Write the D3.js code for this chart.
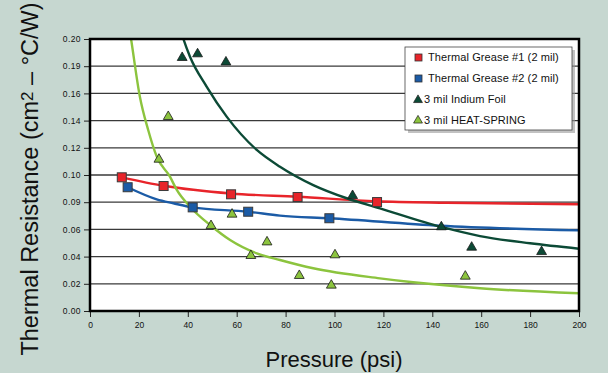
<!DOCTYPE html>
<html>
<head>
<meta charset="utf-8">
<script src="https://cdn.jsdelivr.net/npm/d3@7"></script>
<style>
html,body{margin:0;padding:0;background:#c6d7d0;}
svg{display:block;font-family:"Liberation Sans",Arial,sans-serif;}
</style>
</head>
<body>
<svg id="chart" width="608" height="373"></svg>
<script>
// ---- data ----
const yTickValues = [0, 0.02, 0.04, 0.06, 0.08, 0.10, 0.12, 0.14, 0.16, 0.18, 0.20];
const yTickLabels = ["0.00","0.02","0.04","0.06","0.09","0.10","0.12","0.14","0.16","0.19","0.20"];
const xTickValues = [0,20,40,60,80,100,120,140,160,180,200];

const grease1Points = [[13.0,0.0983],[30.1,0.0919],[57.7,0.0858],[84.9,0.0838],[117.4,0.0801]];
const grease2Points = [[15.4,0.0910],[42.0,0.0762],[64.7,0.0730],[97.9,0.0682]];
const indiumPoints  = [[37.7,0.1863],[44.0,0.1890],[55.6,0.1830],[107.4,0.0848],[143.7,0.0618],[156.1,0.0468],[184.7,0.0436]];
const springPoints  = [[28.2,0.1115],[32.0,0.1429],[49.5,0.0627],[58.1,0.0711],[65.8,0.0407],[72.4,0.0507],[85.6,0.0260],[98.7,0.0189],[100.2,0.0412],[153.5,0.0255]];

const grease1Trend = [[13.0,0.0983],[30.1,0.0921],[57.7,0.0864],[84.9,0.0840],[117.4,0.0807],[145.9,0.0796],[200,0.0785]];
const grease2Trend = [[15.4,0.0910],[27.3,0.0821],[34.1,0.0792],[42.0,0.0762],[64.7,0.0730],[77.7,0.0701],[97.9,0.0682],[143.1,0.0627],[200,0.0593]];
const indiumTrend  = [[37.0,0.207],[38.2,0.200],[40.9,0.187],[47.7,0.165],[55.9,0.1429],[68.2,0.1184],[77.7,0.1061],[91.3,0.0926],[105.0,0.0829],[118.6,0.0755],[143.7,0.0618],[159.5,0.0551],[180.0,0.0498],[200,0.0458]];
const springTrend  = [[16.2,0.207],[16.8,0.200],[20.4,0.1576],[23.8,0.1331],[27.3,0.1135],[32.7,0.0988],[35.5,0.0890],[40.9,0.0767],[49.5,0.0627],[57.3,0.0522],[68.2,0.0424],[77.7,0.0375],[91.3,0.0314],[118.6,0.0240],[132.2,0.0211],[159.5,0.0167],[200,0.0130]];

const seriesNames = ["Thermal Grease #1 (2 mil)","Thermal Grease #2 (2 mil)","3 mil Indium Foil","3 mil HEAT-SPRING"];
const seriesColors = ["#e8242a","#1b5ba6","#0c4a36","#8cc43e"];
const seriesShapes = ["square","square","triangle","triangle"];

// ---- layout ----
const svg = d3.select("#chart");
const pL = 90, pR = 579, pT = 39, pB = 311;
const x = d3.scaleLinear().domain([0,200]).range([pL,pR]);
const y = d3.scaleLinear().domain([0,0.20]).range([pB,pT]);

// plot background
svg.append("rect").attr("x",pL).attr("y",pT).attr("width",pR-pL).attr("height",pB-pT).attr("fill","#fff");

// grid lines
svg.append("g").selectAll("line").data(yTickValues.slice(1,-1)).join("line")
  .attr("x1",pL).attr("x2",pR).attr("y1",d=>y(d)).attr("y2",d=>y(d))
  .attr("stroke","#3a3a3a").attr("stroke-width",1.3);

// axes
const yAxis = d3.axisLeft(y).tickValues(yTickValues).tickFormat((d,i)=>yTickLabels[i]).tickSize(6).tickPadding(3);
const gy = svg.append("g").attr("transform",`translate(${pL},0)`).call(yAxis);
gy.select(".domain").remove();
gy.selectAll("line").attr("stroke","#222").attr("stroke-width",1);
gy.selectAll("text").attr("font-size",8.5).attr("letter-spacing",0.4).attr("fill","#111");

const xAxis = d3.axisBottom(x).tickValues(xTickValues).tickFormat(d3.format("d")).tickSize(6).tickPadding(5);
const gx = svg.append("g").attr("transform",`translate(0,${pB})`).call(xAxis);
gx.select(".domain").remove();
gx.selectAll("line").attr("stroke","#222").attr("stroke-width",1);
gx.selectAll("text").attr("font-size",8.5).attr("fill","#111");

// clip
svg.append("clipPath").attr("id","clip").append("rect")
  .attr("x",pL).attr("y",pT).attr("width",pR-pL).attr("height",pB-pT);

const line = d3.line().x(d=>x(d[0])).y(d=>y(d[1])).curve(d3.curveMonotoneX);
const trends = [grease1Trend, grease2Trend, indiumTrend, springTrend];
const gLines = svg.append("g").attr("clip-path","url(#clip)");
trends.forEach((t,i)=>{
  gLines.append("path").attr("d",line(t)).attr("fill","none")
    .attr("stroke",seriesColors[i]).attr("stroke-width",2.4);
});

// markers
const tri = d3.symbol().type(d3.symbolTriangle).size(42);
function drawSquares(pts,color){
  svg.append("g").selectAll("rect").data(pts).join("rect")
    .attr("x",d=>x(d[0])-4.5).attr("y",d=>y(d[1])-4.5).attr("width",9).attr("height",9)
    .attr("fill",color).attr("stroke","#3a3a3a").attr("stroke-width",1);
}
function drawTriangles(pts,color){
  svg.append("g").selectAll("path").data(pts).join("path")
    .attr("d",tri).attr("transform",d=>`translate(${x(d[0])},${y(d[1])})`)
    .attr("fill",color).attr("stroke","#1a1a1a").attr("stroke-width",0.8);
}
drawSquares(grease1Points,seriesColors[0]);
drawSquares(grease2Points,seriesColors[1]);
drawTriangles(indiumPoints,seriesColors[2]);
drawTriangles(springPoints,seriesColors[3]);

// frame
svg.append("rect").attr("x",pL).attr("y",pT).attr("width",pR-pL).attr("height",pB-pT)
  .attr("fill","none").attr("stroke","#000").attr("stroke-width",2.5);

// legend
const lg = svg.append("g");
lg.append("rect").attr("x",408).attr("y",50).attr("width",167).attr("height",83).attr("fill","#9a9a9a").attr("opacity",0.6);
lg.append("rect").attr("x",405).attr("y",47).attr("width",167).attr("height",83).attr("fill","#fff").attr("stroke","#444").attr("stroke-width",0.8);
const rowY = [57.5,78.5,99.5,120];
seriesNames.forEach((n,i)=>{
  if(seriesShapes[i]==="square"){
    lg.append("rect").attr("x",415).attr("y",rowY[i]-3.5).attr("width",7).attr("height",7)
      .attr("fill",seriesColors[i]).attr("stroke","#333").attr("stroke-width",0.8);
  } else {
    lg.append("path").attr("d",d3.symbol().type(d3.symbolTriangle).size(34)())
      .attr("transform",`translate(418,${rowY[i]+0.5})`).attr("fill",seriesColors[i]).attr("stroke","#1a1a1a").attr("stroke-width",0.7);
  }
  lg.append("text").attr("x",seriesShapes[i]==="square"?428:424).attr("y",rowY[i]).attr("dy","0.35em")
    .attr("font-size",11).attr("letter-spacing",0.1).attr("fill","#111").text(n);
});

// axis titles
svg.append("text").attr("x",334).attr("y",367).attr("text-anchor","middle")
  .attr("font-size",22).attr("fill","#111").text("Pressure (psi)");
const yt = svg.append("text").attr("transform","translate(38,179) rotate(-90)").attr("text-anchor","middle")
  .attr("font-size",23.5).attr("fill","#111");
yt.append("tspan").text("Thermal Resistance (cm");
yt.append("tspan").attr("font-size",17).attr("dy",-5).text("2");
yt.append("tspan").attr("dy",5).text(" – °C/W)");
</script>
</body>
</html>
